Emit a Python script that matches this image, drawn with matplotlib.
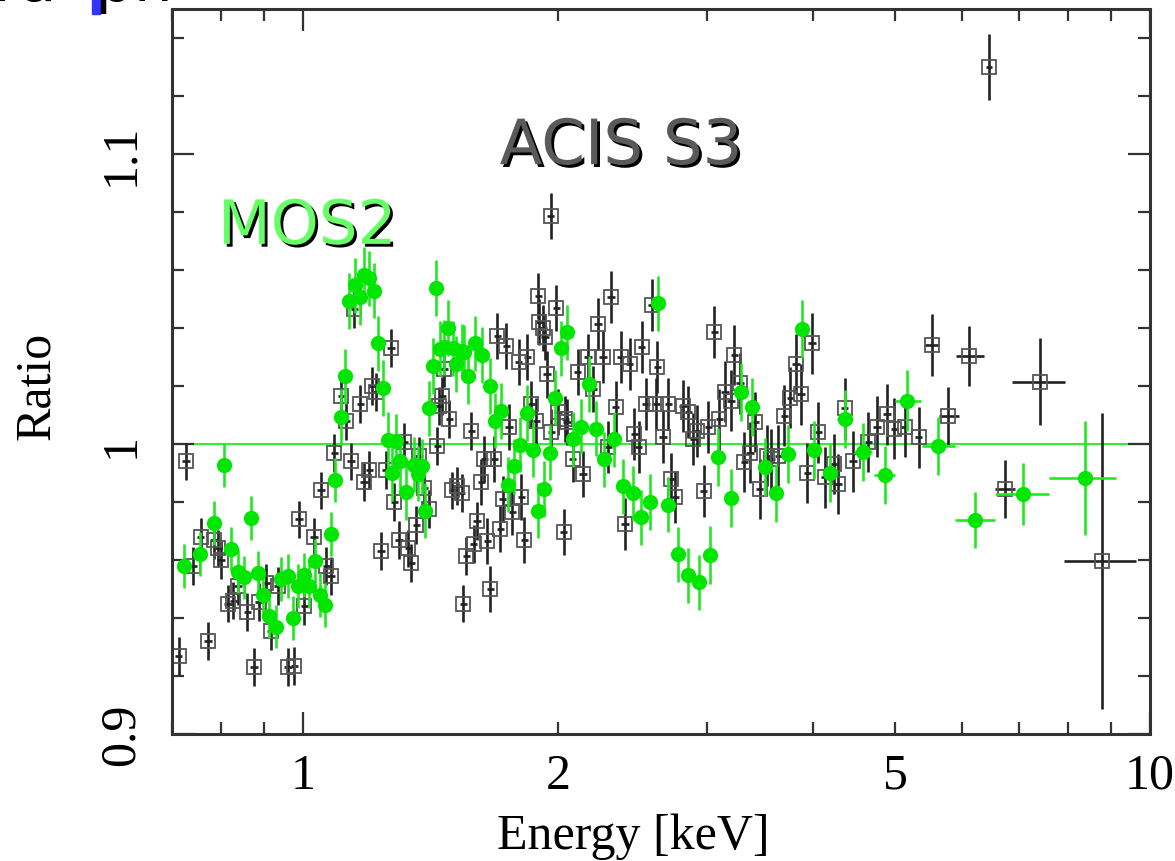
import numpy as np
import matplotlib
matplotlib.use('Agg')
import matplotlib.pyplot as plt
from matplotlib import patheffects
from matplotlib.ticker import FixedLocator, FuncFormatter, NullFormatter
from matplotlib.patches import Rectangle

# ACIS S3 ratio points (energy keV, ratio, 1-sigma)
acis_energy = [
    0.713, 0.727, 0.741, 0.757, 0.772, 0.785, 0.794, 0.800, 0.815, 0.827,
    0.838, 0.859, 0.875, 0.887, 0.904, 0.916, 0.934, 0.960, 0.976, 0.989,
    1.003, 1.030, 1.050, 1.065, 1.079, 1.088, 1.109, 1.124, 1.139, 1.149,
    1.168, 1.180, 1.197, 1.206, 1.220, 1.236, 1.253, 1.270, 1.281, 1.298,
    1.316, 1.331, 1.342, 1.360, 1.370, 1.390, 1.406, 1.440, 1.447, 1.460,
    1.466, 1.488, 1.500, 1.520, 1.538, 1.546, 1.559, 1.580, 1.590, 1.605,
    1.623, 1.636, 1.650, 1.664, 1.682, 1.696, 1.710, 1.720, 1.738, 1.750,
    1.766, 1.796, 1.810, 1.824, 1.840, 1.860, 1.885, 1.895, 1.900, 1.920,
    1.930, 1.940, 1.960, 1.964, 1.990, 2.000, 2.030, 2.040, 2.050, 2.080,
    2.110, 2.140, 2.170, 2.200, 2.230, 2.260, 2.290, 2.310, 2.340, 2.370,
    2.400, 2.430, 2.460, 2.490, 2.510, 2.540, 2.580, 2.610, 2.620, 2.660,
    2.700, 2.720, 2.750, 2.810, 2.850, 2.890, 2.920, 2.970, 3.010, 3.060,
    3.100, 3.150, 3.200, 3.230, 3.280, 3.320, 3.370, 3.420, 3.460, 3.530,
    3.570, 3.640, 3.700, 3.760, 3.820, 3.870, 3.940, 3.990, 4.060, 4.130,
    4.230, 4.280, 4.360, 4.460, 4.650, 4.760, 4.890, 4.990, 5.130, 5.330,
    5.530, 5.780, 6.120, 6.450, 6.740, 7.410, 8.780]
acis_ratio = [
    0.927, 0.994, 0.958, 0.968, 0.932, 0.967, 0.964, 0.960, 0.945, 0.946,
    0.951, 0.942, 0.923, 0.9455, 0.952, 0.9355, 0.951, 0.923, 0.9234, 0.974,
    0.944, 0.968, 0.984, 0.958, 0.9545, 0.997, 1.0166, 1.008, 0.994, 1.0466,
    1.0138, 0.987, 0.991, 1.020, 1.018, 0.963, 0.991, 1.033, 0.980, 0.967,
    1.0007, 0.964, 0.959, 0.972, 0.996, 0.985, 0.9776, 0.9993, 1.013, 1.0166,
    1.026, 1.0086, 0.984, 0.9855, 0.983, 0.945, 0.9614, 1.0045, 0.9655, 0.9734,
    0.987, 0.9948, 0.9666, 0.950, 0.9948, 1.0372, 0.9707, 0.981, 1.0338, 1.0059,
    0.9766, 1.0283, 0.9817, 0.967, 1.030, 1.0138, 1.008, 1.051, 1.042, 1.040,
    1.037, 1.024, 1.0786, 1.004, 1.047, 1.011, 0.9697, 1.0086, 1.0076, 0.9948,
    1.0248, 0.9897, 1.030, 1.019, 1.0414, 1.030, 0.999, 1.0507, 1.0128, 1.030,
    0.9724, 1.0276, 1.0034, 0.999, 1.0334, 1.0138, 1.048, 1.0138, 1.0266, 1.0024,
    1.0138, 0.988, 0.9817, 1.013, 1.011, 1.0017, 1.0045, 0.9838, 1.0059, 1.0386,
    1.0086, 1.018, 1.015, 1.0307, 1.021, 0.9938, 0.997, 1.0076, 0.9845, 0.9959,
    0.9948, 0.9959, 1.0097, 1.016, 1.0276, 1.0172, 0.990, 1.0348, 1.0041, 0.9886,
    0.9931, 0.9862, 1.0124, 0.9941, 1.0007, 1.0059, 1.0103, 1.0052, 1.0059, 1.0024,
    1.034, 1.0097, 1.0303, 1.130, 0.9845, 1.0214, 0.9597]
acis_sigma = (
    [0.0065] * 60
    + [0.008] * 34
    + [0.009] * 26
    + [0.0105] * 30
    + [0.0107, 0.010, 0.0103, 0.0115, 0.010, 0.015, 0.051])
# bin edges of the wide high-energy ACIS bins (last points)
acis_wide_lo = [5.42, 5.64, 5.90, 6.40, 6.56, 6.87, 7.91]
acis_wide_hi = [5.64, 5.95, 6.36, 6.50, 6.92, 7.93, 9.64]

# MOS2 ratio points
mos_energy = [
    0.723, 0.755, 0.785, 0.807, 0.822, 0.838, 0.852, 0.868, 0.885, 0.897,
    0.912, 0.929, 0.942, 0.960, 0.973, 0.987, 1.003, 1.016, 1.033, 1.047,
    1.062, 1.079, 1.091, 1.109, 1.121, 1.133, 1.152, 1.168, 1.180, 1.197,
    1.213, 1.226, 1.243, 1.260, 1.274, 1.288, 1.302, 1.324, 1.352, 1.367,
    1.382, 1.393, 1.409, 1.424, 1.436, 1.452, 1.467, 1.484, 1.504, 1.516,
    1.538, 1.550, 1.566, 1.597, 1.628, 1.660, 1.686, 1.714, 1.747, 1.776,
    1.805, 1.839, 1.870, 1.896, 1.927, 1.954, 1.984, 2.018, 2.047, 2.085,
    2.131, 2.173, 2.219, 2.267, 2.331, 2.388, 2.455, 2.509, 2.570, 2.627,
    2.700, 2.770, 2.850, 2.930, 3.020, 3.090, 3.200, 3.290, 3.390, 3.510,
    3.620, 3.740, 3.880, 4.010, 4.190, 4.360, 4.580, 4.860, 5.170, 5.620,
    6.220, 7.080, 8.370]
mos_ratio = [
    0.958, 0.962, 0.9728, 0.9928, 0.9638, 0.956, 0.954, 0.9745, 0.9555, 0.948,
    0.9407, 0.937, 0.9534, 0.9545, 0.940, 0.951, 0.9548, 0.951, 0.9597, 0.948,
    0.9445, 0.969, 0.9876, 1.0093, 1.0234, 1.0493, 1.0548, 1.0507, 1.0583, 1.0572,
    1.0528, 1.0348, 1.0193, 1.0014, 0.990, 1.001, 0.9941, 0.9834, 0.9928, 0.9897,
    0.9924, 0.977, 1.0124, 1.0269, 1.0538, 1.0328, 1.0334, 1.040, 1.033, 1.0276,
    1.032, 1.0317, 1.0234, 1.0348, 1.0307, 1.020, 1.008, 1.0114, 0.986, 0.9924,
    0.9997, 1.0107, 0.998, 0.977, 0.9845, 0.997, 1.016, 1.033, 1.0386, 1.0017,
    1.0059, 1.0207, 1.0052, 0.9948, 1.0017, 0.9855, 0.983, 0.9748, 0.980, 1.0486,
    0.979, 0.962, 0.9548, 0.9524, 0.9617, 0.9955, 0.9814, 1.018, 1.0128, 0.992,
    0.983, 0.9966, 1.0397, 0.998, 0.990, 1.0086, 0.9972, 0.9893, 1.015, 0.9993,
    0.9738, 0.9828, 0.9883]
mos_sigma = (
    [0.0075] * 23
    + [0.0095] * 61
    + [0.010] * 14
    + [0.0106, 0.010, 0.0098, 0.0106, 0.0198])
mos_wide_lo = [4.27, 4.47, 4.72, 5.00, 5.38, 5.88, 6.56, 7.60]
mos_wide_hi = [4.45, 4.69, 5.00, 5.36, 5.88, 6.56, 7.60, 9.13]


def bin_halfwidths(energy, wide_lo, wide_hi, frac=0.01):
    e = np.asarray(energy)
    lo = e * frac
    hi = e * frac
    n = len(wide_lo)
    lo[-n:] = e[-n:] - np.asarray(wide_lo)
    hi[-n:] = np.asarray(wide_hi) - e[-n:]
    return np.vstack([lo, hi])


fig = plt.figure(figsize=(11.75, 8.62), dpi=100)
ax = fig.add_axes([0.1464, 0.1473, 0.8323, 0.8411])

ax.axhline(1.0, color='#33ee33', lw=1.5, zorder=1)

ax.errorbar(acis_energy, acis_ratio, yerr=acis_sigma,
            xerr=bin_halfwidths(acis_energy, acis_wide_lo, acis_wide_hi),
            fmt='s', ms=9.5, mfc='none', mec='#555555', mew=1.3,
            ecolor='#222222', elinewidth=1.9, capsize=0, zorder=2)
ax.errorbar(mos_energy, mos_ratio, yerr=mos_sigma,
            xerr=bin_halfwidths(mos_energy, mos_wide_lo, mos_wide_hi),
            fmt='o', ms=11, mfc='#00e600', mec='#00e600', mew=0,
            ecolor='#22e822', elinewidth=1.9, capsize=0, zorder=3)

ax.set_xscale('log')
ax.set_xlim(0.7, 10)
ax.set_ylim(0.9, 1.15)

serif = 'Liberation Serif'
ax.xaxis.set_major_locator(FixedLocator([1, 10]))
ax.xaxis.set_minor_locator(FixedLocator([0.7, 0.8, 0.9, 2, 3, 4, 5, 6, 7, 8, 9]))
ax.xaxis.set_major_formatter(FuncFormatter(lambda v, p: f'{v:g}'))
ax.xaxis.set_minor_formatter(FuncFormatter(lambda v, p: f'{v:g}' if v in (2.0, 5.0) else ''))
ax.yaxis.set_major_locator(FixedLocator([0.9, 1.0, 1.1]))
ax.yaxis.set_minor_locator(FixedLocator(np.arange(0.92, 1.15, 0.02)))
ax.yaxis.set_major_formatter(FuncFormatter(lambda v, p: f'{v:g}'))
ax.yaxis.set_minor_formatter(NullFormatter())

ax.tick_params(which='both', direction='in', top=True, right=True,
               color='#333333', width=1.6)
ax.tick_params(which='major', length=16)
ax.tick_params(which='minor', length=8.5)
ax.tick_params(axis='x', which='both', pad=13, labelsize=36)
ax.tick_params(axis='y', which='both', pad=20, labelsize=36, labelrotation=90)
for lab in ax.get_xticklabels(which='both') + ax.get_yticklabels():
    lab.set_family(serif)
for lab in ax.get_yticklabels():
    lab.set_va('center')

for sp in ax.spines.values():
    sp.set_linewidth(2.2)
    sp.set_color('#333333')

ax.set_xlabel('Energy [keV]', fontsize=36, family=serif)
ax.xaxis.set_label_coords(0.4714, -0.1076)
ax.set_ylabel('Ratio', fontsize=36, family=serif, va='center')
ax.yaxis.set_label_coords(-0.138, 0.481)

shadow = [patheffects.SimplePatchShadow(offset=(2, -2), shadow_rgbFace='black', alpha=1.0),
          patheffects.Normal()]
ax.text(0.335, 0.786, 'ACIS S3', transform=ax.transAxes, fontsize=45,
        color='#5a5a5a', ha='left', va='baseline', path_effects=shadow, zorder=5)
ax.text(0.047, 0.676, 'MOS2', transform=ax.transAxes, fontsize=44,
        color='#66ff66', ha='left', va='baseline', path_effects=shadow, zorder=5)

# cropped slide text at the top edge
fig.text(-0.005, 1 - 1 / 862, 'ra  pn', fontsize=44, color='black', va='baseline')
fig.patches.append(Rectangle((92 / 1175, 1 - 15 / 862), 8 / 1175, 15 / 862,
                             transform=fig.transFigure, color='#3333ff'))

fig.savefig('out.png', dpi=100)
